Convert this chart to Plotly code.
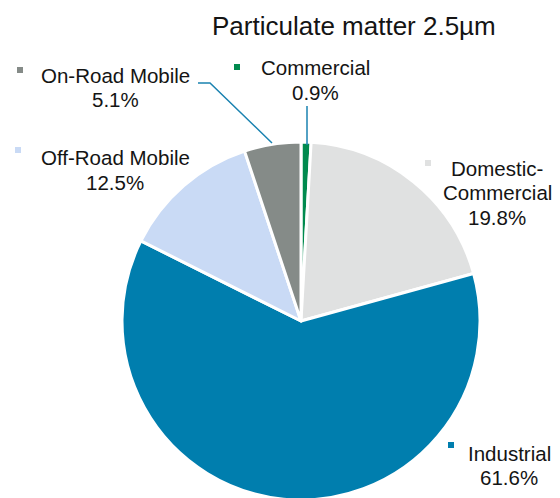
import plotly.graph_objects as go

W, H = 560, 498
OFF = 8  # page body margin in the browser

# ── Data ─────────────────────────────────────────────────────────────────────
labels = ["Commercial", "Domestic-Commercial", "Industrial", "Off-Road Mobile", "On-Road Mobile"]
values = [0.9, 19.8, 61.6, 12.5, 5.1]
colors = ["#008a4e", "#e0e1e1", "#007eae", "#c9daf5", "#858b88"]
label_lines = [
    ["Commercial", "0.9%"],
    ["Domestic-", "Commercial", "19.8%"],
    ["Industrial", "61.6%"],
    ["Off-Road Mobile", "12.5%"],
    ["On-Road Mobile", "5.1%"],
]
title = "Particulate matter 2.5µm"

FONT = "Liberation Sans, Arial, sans-serif"
TEXT = "#141414"
LEADER = "#1a82b0"


def px(x, y):
    # screen pixels -> paper coords
    return (x - OFF) / W, 1 - (y - OFF) / H


# label placement in screen pixels: text centre x, first line y, marker centre
label_pos = {
    "Commercial": (315, 68, (237, 67)),
    "Domestic-Commercial": (497, 168, (428, 163)),
    "Industrial": (509, 453, (451, 445)),
    "Off-Road Mobile": (115, 158, (18, 150)),
    "On-Road Mobile": (115, 75, (20, 70)),
}
LINE_H = 24.5

fig = go.Figure(go.Pie(
    labels=labels,
    values=values,
    marker=dict(colors=colors, line=dict(color="white", width=3)),
    sort=False,
    direction="clockwise",
    rotation=0,
    textinfo="none",
    hoverinfo="label+percent",
    domain=dict(x=[(122 - OFF) / W, (480 - OFF) / W],
                y=[1 - (500 - OFF) / H, 1 - (142 - OFF) / H]),
))

tx, ty = px(354, 26)
annotations = [dict(
    text=title, x=tx, y=ty, xref="paper", yref="paper",
    showarrow=False, font=dict(family=FONT, size=26, color=TEXT),
    xanchor="center", yanchor="middle",
)]
shapes = []
for lab, lines, col in zip(labels, label_lines, colors):
    cx, y0, (mx, my) = label_pos[lab]
    for i, line in enumerate(lines):
        x, y = px(cx, y0 + i * LINE_H)
        annotations.append(dict(
            text=line, x=x, y=y, xref="paper", yref="paper", showarrow=False,
            font=dict(family=FONT, size=20.5, color=TEXT),
            xanchor="center", yanchor="middle",
        ))
    ax0, ay0 = px(mx - 3, my - 3)
    ax1, ay1 = px(mx + 3, my + 3)
    shapes.append(dict(type="rect", xref="paper", yref="paper",
                       x0=ax0, y0=ay0, x1=ax1, y1=ay1, fillcolor=col, line=dict(width=0)))

# leader lines
for pts in ([(307, 106), (307, 145)], [(198, 83), (210, 83), (272, 143)]):
    path = "M " + " L ".join(f"{px(a, b)[0]},{px(a, b)[1]}" for a, b in pts)
    shapes.append(dict(type="path", xref="paper", yref="paper", path=path,
                       line=dict(color=LEADER, width=1.5)))

fig.update_layout(
    width=W, height=H,
    margin=dict(t=0, b=0, l=0, r=0),
    showlegend=False,
    paper_bgcolor="white",
    annotations=annotations,
    shapes=shapes,
)

fig.write_html("out.html")
